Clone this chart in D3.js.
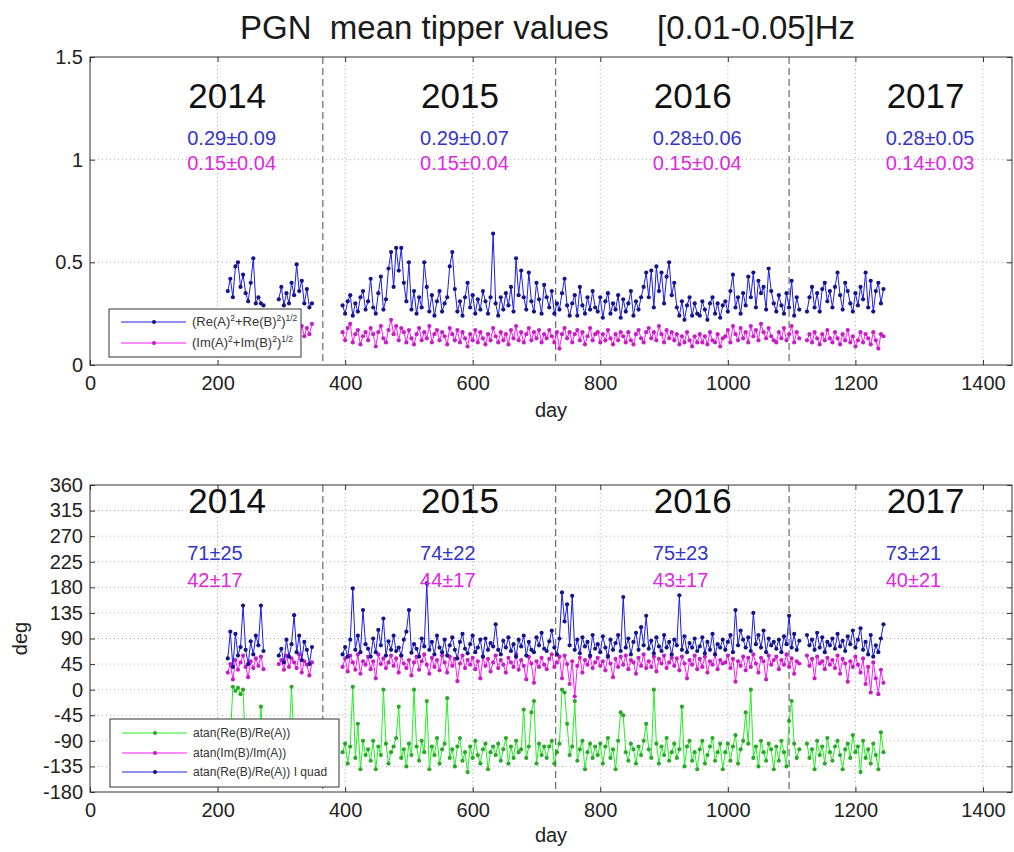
<!DOCTYPE html>
<html><head><meta charset="utf-8">
<script src="https://cdn.jsdelivr.net/npm/d3@7"></script>
<style>
body{margin:0;background:#fff}
svg text{font-family:"Liberation Sans",Arial,Helvetica,sans-serif;white-space:pre}
</style>
</head><body>
<svg id="c" width="1014" height="852"></svg>
<script>
// ---------- DATA ----------
const days = [
 216,220,224,228,232,236,240,244,248,252,256,260,264,268,272,
 296,300,304,308,312,316,320,324,328,332,336,340,344,348,
 396,400,404,408,412,416,420,424,428,432,
 436,440,444,448,452,456,460,464,468,472,
 476,480,484,488,492,496,500,504,508,512,
 516,520,524,528,532,536,540,544,548,552,
 556,560,564,568,572,576,580,584,588,592,
 596,600,604,608,612,616,620,624,628,632,
 636,640,644,648,652,656,660,664,668,672,
 676,680,684,688,692,696,700,704,708,712,
 716,720,724,728,732,736,740,744,748,752,
 756,760,764,768,772,776,780,784,788,792,
 796,800,804,808,812,816,820,824,828,832,
 836,840,844,848,852,856,860,864,868,872,
 876,880,884,888,892,896,900,904,908,912,
 916,920,924,928,932,936,940,944,948,952,
 956,960,964,968,972,976,980,984,988,992,
 996,1000,1004,1008,1012,1016,1020,1024,1028,1032,
 1036,1040,1044,1048,1052,1056,1060,1064,1068,1072,
 1076,1080,1084,1088,1092,1096,1100,1104,1108,1112,
 1124,1128,1132,1136,1140,1144,1148,1152,1156,1160,
 1164,1168,1172,1176,1180,1184,1188,1192,1196,1200,
 1204,1208,1212,1216,1220,1224,1228,1232,1236,1240,
 1244
];
// top panel: (Re(A)^2+Re(B)^2)^1/2
const tipRe = [
 0.36,0.42,0.33,0.48,0.50,0.38,0.44,0.35,0.31,0.40,0.52,0.30,0.33,0.30,0.29,
 0.32,0.38,0.29,0.35,0.30,0.40,0.34,0.49,0.36,0.41,0.30,0.37,0.28,0.30,
 0.29,0.25,0.31,0.34,0.24,0.30,0.26,0.33,0.36,0.27,
 0.31,0.42,0.28,0.25,0.35,0.43,0.27,0.32,0.47,0.55,
 0.38,0.57,0.46,0.57,0.40,0.31,0.50,0.27,0.36,0.25,
 0.33,0.28,0.50,0.38,0.26,0.34,0.24,0.31,0.36,0.26,
 0.30,0.33,0.48,0.55,0.37,0.26,0.31,0.24,0.33,0.40,
 0.28,0.34,0.25,0.32,0.27,0.36,0.31,0.25,0.33,0.64,
 0.30,0.24,0.33,0.27,0.35,0.29,0.38,0.26,0.52,0.34,
 0.46,0.33,0.27,0.45,0.31,0.26,0.40,0.32,0.25,0.39,
 0.33,0.28,0.36,0.25,0.30,0.27,0.35,0.42,0.29,0.24,
 0.30,0.34,0.24,0.38,0.29,0.25,0.33,0.27,0.36,0.28,
 0.26,0.33,0.23,0.31,0.35,0.25,0.30,0.27,0.34,0.23,
 0.32,0.26,0.30,0.36,0.24,0.31,0.27,0.33,0.38,0.45,
 0.33,0.46,0.28,0.48,0.36,0.45,0.30,0.43,0.50,0.34,
 0.40,0.28,0.24,0.31,0.22,0.29,0.33,0.24,0.30,0.25,
 0.24,0.31,0.27,0.22,0.30,0.33,0.25,0.30,0.23,0.29,
 0.31,0.26,0.36,0.44,0.28,0.33,0.25,0.35,0.29,0.43,
 0.33,0.45,0.28,0.41,0.35,0.38,0.27,0.47,0.36,0.30,
 0.26,0.34,0.29,0.25,0.35,0.28,0.41,0.24,0.33,0.27,
 0.26,0.33,0.38,0.28,0.35,0.26,0.37,0.40,0.31,0.36,
 0.28,0.38,0.45,0.34,0.27,0.40,0.36,0.30,0.26,0.35,
 0.29,0.38,0.32,0.45,0.28,0.41,0.26,0.36,0.40,0.30,
 0.37
];
// top panel: (Im(A)^2+Im(B)^2)^1/2
const tipIm = [
 0.16,0.19,0.14,0.21,0.18,0.15,0.20,0.16,0.13,0.17,0.19,0.14,0.15,0.13,0.14,
 0.15,0.18,0.13,0.17,0.14,0.19,0.16,0.21,0.17,0.19,0.14,0.18,0.15,0.20,
 0.16,0.12,0.18,0.20,0.11,0.15,0.17,0.10,0.14,0.16,
 0.12,0.18,0.15,0.09,0.16,0.19,0.13,0.11,0.17,0.22,
 0.15,0.19,0.12,0.18,0.16,0.11,0.17,0.13,0.10,0.15,
 0.18,0.12,0.16,0.13,0.19,0.11,0.15,0.17,0.12,0.16,
 0.14,0.10,0.18,0.15,0.12,0.17,0.11,0.16,0.13,0.09,
 0.15,0.12,0.17,0.11,0.16,0.13,0.10,0.15,0.12,0.18,
 0.14,0.11,0.16,0.12,0.15,0.10,0.17,0.13,0.19,0.12,
 0.16,0.11,0.15,0.18,0.12,0.16,0.13,0.17,0.11,0.15,
 0.13,0.17,0.14,0.11,0.16,0.08,0.15,0.18,0.13,0.16,
 0.11,0.15,0.17,0.12,0.16,0.10,0.14,0.18,0.12,0.15,
 0.16,0.11,0.15,0.12,0.17,0.13,0.10,0.15,0.12,0.16,
 0.14,0.11,0.16,0.12,0.10,0.15,0.17,0.13,0.11,0.16,
 0.18,0.13,0.16,0.12,0.19,0.15,0.11,0.17,0.13,0.16,
 0.12,0.15,0.10,0.14,0.11,0.16,0.12,0.09,0.14,0.11,
 0.15,0.11,0.14,0.10,0.16,0.12,0.11,0.15,0.09,0.13,
 0.14,0.17,0.11,0.19,0.15,0.12,0.18,0.13,0.16,0.11,
 0.19,0.14,0.17,0.12,0.20,0.16,0.13,0.18,0.14,0.12,
 0.11,0.16,0.13,0.18,0.12,0.15,0.19,0.11,0.16,0.13,
 0.12,0.15,0.11,0.16,0.13,0.10,0.15,0.12,0.17,0.13,
 0.11,0.16,0.13,0.10,0.15,0.12,0.17,0.11,0.14,0.09,
 0.12,0.16,0.11,0.15,0.13,0.10,0.16,0.12,0.08,0.15,
 0.14
];
// bottom panel: atan(Re(B)/Re(A)) (deg)
const angRe = [
 -100,-85,5,-2,3,-8,0,-110,-95,-120,-105,-90,-100,-30,-115,
 -110,-95,-120,-100,-85,5,-105,-130,-90,-115,-100,-125,-95,-110,
 -110,-95,-130,-100,5,-120,-60,-140,-90,-115,
 -105,-125,-90,-140,-100,-115,0,-95,-130,-110,
 -100,-85,-30,-120,-105,-135,-95,-115,0,-100,
 -125,-90,-110,-20,-140,-100,-115,-85,-130,-105,
 -95,-15,-120,-105,-135,-100,-85,-125,-110,-145,
 -100,-120,-90,-115,-130,-105,-95,-140,-110,-100,
 -115,-95,-125,-105,-85,-130,-100,-120,-90,-110,
 -105,-35,-120,-100,-40,-20,-130,-95,-115,-100,
 -120,-100,-90,-130,-110,-95,0,-5,-60,-115,
 -100,-20,-125,-105,-90,-140,-110,-95,-120,-100,
 -115,-95,-130,-100,-85,-120,-105,-140,-90,-40,
 -45,-110,-125,-95,-105,-130,-100,-115,-90,-60,
 -105,-120,0,-95,-130,-100,-115,-85,-125,-110,
 -95,-120,-105,-30,-135,-100,-90,-125,-110,-140,
 -105,-90,-130,-115,-100,-85,-125,-110,-95,-140,
 -110,-95,-125,-100,-80,-130,-105,-90,-40,-95,
 0,-120,-100,-135,-90,-110,-125,-95,-105,-140,
 -100,-125,-90,-110,-135,-55,-20,-95,-120,-105,
 -95,-120,-105,-140,-90,-115,-100,-130,-85,-110,
 -125,-100,-90,-115,-140,-105,-95,-120,-80,-110,
 -100,-145,-90,-120,-105,-130,-95,-115,-140,-75,
 -110
];
// bottom panel: atan(Im(B)/Im(A)) (deg)
const angIm = [
 30,45,18,52,35,48,60,40,22,50,38,55,42,58,36,
 45,52,35,60,40,55,48,38,62,30,50,44,25,48,
 40,55,32,60,48,35,62,28,50,44,
 58,36,50,20,62,45,55,38,48,60,
 42,55,30,60,46,38,52,25,48,58,
 35,50,62,44,28,56,40,52,34,60,
 48,30,58,42,54,15,46,60,38,52,
 44,56,36,50,20,58,42,54,32,48,
 60,38,52,44,30,56,48,40,62,35,
 52,42,18,58,46,12,50,40,56,44,
 36,54,62,40,48,58,20,60,45,10,
 50,-12,42,56,30,52,44,58,38,48,
 56,42,50,34,60,46,22,54,40,58,
 44,60,36,52,48,28,56,42,62,38,
 50,40,58,32,54,46,60,38,48,56,
 42,55,34,58,46,20,52,44,60,36,
 54,40,58,30,50,44,62,36,52,46,
 48,60,38,54,14,50,42,58,34,56,
 40,62,46,30,56,50,18,60,44,52,
 58,36,52,44,62,40,55,28,50,46,
 60,42,54,20,58,46,50,36,56,44,
 52,38,60,28,54,46,14,50,40,58,
 44,30,55,10,40,-5,48,20,-8,35,
 12
];
// bottom panel: atan(Re(B)/Re(A)) I quad (deg)
const angReQ = [
 55,102,40,98,60,75,148,70,45,85,62,95,78,148,68,
 60,72,48,88,58,80,131,66,95,52,84,70,45,75,
 62,75,58,88,178,70,95,66,140,80,
 72,58,90,66,105,78,125,60,85,70,
 95,68,74,60,88,102,140,65,80,72,
 58,90,76,187,70,84,62,95,74,66,
 88,60,78,92,70,55,84,98,72,64,
 80,95,66,74,88,58,90,70,82,76,
 115,70,62,86,74,92,68,80,58,88,
 76,95,60,84,70,66,92,78,100,72,
 68,85,104,74,62,90,171,120,150,78,
 165,70,88,64,92,76,84,60,96,72,
 80,66,94,74,58,88,70,82,96,68,
 163,74,90,62,84,100,70,110,78,130,
 72,86,64,92,76,68,96,74,84,62,
 88,78,166,70,94,66,82,74,90,68,
 76,92,64,84,70,98,62,80,74,88,
 70,84,96,66,140,78,104,88,74,92,
 68,135,80,96,74,104,66,90,78,84,
 72,88,66,94,80,130,74,98,70,86,
 96,78,88,70,100,74,92,66,84,78,
 90,72,98,76,86,68,94,80,104,74,
 88,108,70,84,62,96,58,78,66,90,
 115
];
const years = ["2014","2015","2016","2017"];
const yearLabelDay = [154,519,884,1249];
const yearBoundaryDays = [365,730,1096];
const tipReStats = ["0.29\u00B10.09","0.29\u00B10.07","0.28\u00B10.06","0.28\u00B10.05"];
const tipImStats = ["0.15\u00B10.04","0.15\u00B10.04","0.15\u00B10.04","0.14\u00B10.03"];
const angReQStats = ["71\u00B125","74\u00B122","75\u00B123","73\u00B121"];
const angImStats = ["42\u00B117","44\u00B117","43\u00B117","40\u00B121"];
const xTicks = [0,200,400,600,800,1000,1200,1400];
const yTicksTop = [0,0.5,1,1.5];
const yTicksBot = [-180,-135,-90,-45,0,45,90,135,180,225,270,315,360];

// ---------- DRAW ----------
const svg = d3.select("#c");
const FONT = '"Liberation Sans",Arial,Helvetica,sans-serif';
const X0 = 90, X1 = 1012;
const x = d3.scaleLinear().domain([0,1445.5]).range([X0,X1]);
const BLUE = "#1c1ce6", BLUE_M = "#14148a";
const MAG = "#ff1aff", MAG_M = "#c81cc8";
const GRN = "#22f022", GRN_M = "#2aa82a";
const BLUE_T = "#3434c8", MAG_T = "#e028e0";

// title
svg.append("text").attr("x",240).attr("y",39).attr("font-size",33).attr("fill","#1a1a1a").text("PGN  mean tipper values");
svg.append("text").attr("x",657).attr("y",39).attr("font-size",33).attr("fill","#1a1a1a").text("[0.01-0.05]Hz");

function segmentsOf(vals){
  const segs=[]; let cur=[];
  const n=Math.min(days.length, vals.length);
  for(let i=0;i<n;i++){
    if(cur.length && days[i]-cur[cur.length-1][0] > 6){segs.push(cur);cur=[];}
    cur.push([days[i],vals[i]]);
  }
  if(cur.length) segs.push(cur);
  return segs;
}

function panel(o){
  const g = svg.append("g");
  const y = d3.scaleLinear().domain(o.ydom).range([o.bottom,o.top]);
  const cid = "clip"+o.id;
  svg.append("clipPath").attr("id",cid).append("rect")
    .attr("x",X0).attr("y",o.top).attr("width",X1-X0).attr("height",o.bottom-o.top);
  // grid
  g.append("g").selectAll("line").data(xTicks.filter(d=>d>0)).join("line")
    .attr("x1",d=>x(d)).attr("x2",d=>x(d)).attr("y1",o.top).attr("y2",o.bottom)
    .attr("stroke","#b0b0b0").attr("stroke-width",1).attr("stroke-dasharray","1,3");
  g.append("g").selectAll("line").data(o.yTicks.filter(d=>d!==o.ydom[0]&&d!==o.ydom[1])).join("line")
    .attr("x1",X0).attr("x2",X1).attr("y1",d=>y(d)).attr("y2",d=>y(d))
    .attr("stroke","#b0b0b0").attr("stroke-width",1).attr("stroke-dasharray","1,3");
  // year boundaries
  g.append("g").selectAll("line").data(yearBoundaryDays).join("line")
    .attr("x1",d=>x(d)).attr("x2",d=>x(d)).attr("y1",o.top).attr("y2",o.bottom)
    .attr("stroke","#6a6a6a").attr("stroke-width",1.2).attr("stroke-dasharray","7,4");
  // data
  const dg = g.append("g").attr("clip-path",`url(#${cid})`);
  const line = d3.line().x(d=>x(d[0])).y(d=>y(d[1]));
  o.series.forEach(s=>{
    const segs = segmentsOf(s.vals);
    dg.append("g").selectAll("path").data(segs).join("path")
      .attr("d",line).attr("fill","none").attr("stroke",s.color).attr("stroke-width",1);
    dg.append("g").selectAll("circle").data(segs.flat()).join("circle")
      .attr("cx",d=>x(d[0])).attr("cy",d=>y(d[1])).attr("r",2.1)
      .attr("fill",s.mcolor);
  });
  // year labels & stats
  const tg = g.append("g");
  tg.selectAll(".yr").data(years).join("text").attr("class","yr")
    .attr("x",(d,i)=>x(yearLabelDay[i])).attr("y",o.yearY)
    .attr("font-size",35).attr("fill","#111").text(d=>d);
  tg.selectAll(".s1").data(o.stats1).join("text").attr("class","s1")
    .attr("x",(d,i)=>x(yearLabelDay[i])-1).attr("y",o.stat1Y)
    .attr("font-size",20).attr("fill",BLUE_T).text(d=>d);
  tg.selectAll(".s2").data(o.stats2).join("text").attr("class","s2")
    .attr("x",(d,i)=>x(yearLabelDay[i])-1).attr("y",o.stat2Y)
    .attr("font-size",20).attr("fill",MAG_T).text(d=>d);
  // axes
  const ax = g.append("g");
  ax.append("g").attr("transform",`translate(0,${o.bottom})`)
    .call(d3.axisBottom(x).tickValues(xTicks).tickFormat(d3.format("d")).tickSizeInner(-5).tickSizeOuter(0).tickPadding(11));
  ax.append("g").attr("transform",`translate(0,${o.top})`)
    .call(d3.axisTop(x).tickValues(xTicks).tickFormat("").tickSizeInner(-5).tickSizeOuter(0));
  ax.append("g").attr("transform",`translate(${X0},0)`)
    .call(d3.axisLeft(y).tickValues(o.yTicks).tickFormat(o.yFmt).tickSizeInner(-5).tickSizeOuter(0).tickPadding(7));
  ax.append("g").attr("transform",`translate(${X1},0)`)
    .call(d3.axisRight(y).tickValues(o.yTicks).tickFormat("").tickSizeInner(-5).tickSizeOuter(0));
  ax.selectAll(".domain").remove();
  ax.selectAll(".tick line").attr("stroke","#333");
  ax.selectAll(".tick text").attr("font-size",20).attr("fill","#222").attr("font-family",FONT);
  ax.append("rect").attr("x",X0).attr("y",o.top).attr("width",X1-X0).attr("height",o.bottom-o.top)
    .attr("fill","none").attr("stroke","#333").attr("stroke-width",1);
  // x label
  g.append("text").attr("x",(X0+X1)/2).attr("y",o.xlabY).attr("text-anchor","middle")
    .attr("font-size",20).attr("fill","#222").text("day");
  if(o.ylab){
    g.append("text").attr("transform",`translate(27,${(o.top+o.bottom)/2}) rotate(-90)`)
      .attr("text-anchor","middle").attr("font-size",20).attr("fill","#222").text(o.ylab);
  }
  // legend
  const L = o.legend;
  const lg = g.append("g");
  lg.append("rect").attr("x",L.x).attr("y",L.y).attr("width",L.w).attr("height",L.h)
    .attr("fill","#fff").attr("stroke","#333").attr("stroke-width",1);
  L.rows.forEach(r=>{
    lg.append("line").attr("x1",L.x+12).attr("x2",L.x+77).attr("y1",r.y).attr("y2",r.y)
      .attr("stroke",r.color).attr("stroke-width",1);
    lg.append("circle").attr("cx",L.x+45).attr("cy",r.y).attr("r",2).attr("fill",r.mcolor);
    const t = lg.append("text").attr("x",L.x+83).attr("y",r.y+4).attr("font-size",L.fs).attr("fill","#333");
    r.parts.forEach(p=>{
      const ts = t.append("tspan").text(p.t);
      if(p.sup){ ts.attr("font-size",L.fs*0.65).attr("dy",-5); }
      else if(p.after){ ts.attr("dy",5); }
    });
  });
}

panel({
  id:"top", top:57, bottom:365, ydom:[0,1.5], yTicks:yTicksTop, yFmt:d=>String(d),
  series:[{vals:tipRe,color:BLUE,mcolor:BLUE_M},{vals:tipIm,color:MAG,mcolor:MAG_M}],
  yearY:108, stats1:tipReStats, stat1Y:145, stats2:tipImStats, stat2Y:170,
  xlabY:417, ylab:null,
  legend:{x:109,y:309,w:192,h:48,fs:13,rows:[
    {y:322,color:BLUE,mcolor:BLUE_M,parts:[{t:"(Re(A)"},{t:"2",sup:1},{t:"+Re(B)",after:1},{t:"2",sup:1},{t:")",after:1},{t:"1/2",sup:1}]},
    {y:343,color:MAG,mcolor:MAG_M,parts:[{t:"(Im(A)"},{t:"2",sup:1},{t:"+Im(B)",after:1},{t:"2",sup:1},{t:")",after:1},{t:"1/2",sup:1}]}
  ]}
});

panel({
  id:"bot", top:485, bottom:792, ydom:[-180,360], yTicks:yTicksBot, yFmt:d=>String(d),
  series:[{vals:angRe,color:GRN,mcolor:GRN_M},{vals:angIm,color:MAG,mcolor:MAG_M},{vals:angReQ,color:BLUE,mcolor:BLUE_M}],
  yearY:513, stats1:angReQStats, stat1Y:560, stats2:angImStats, stat2Y:587,
  xlabY:842, ylab:"deg",
  legend:{x:110,y:719,w:229,h:68,fs:12,rows:[
    {y:733,color:GRN,mcolor:GRN_M,parts:[{t:"atan(Re(B)/Re(A))"}]},
    {y:753,color:MAG,mcolor:MAG_M,parts:[{t:"atan(Im(B)/Im(A))"}]},
    {y:772,color:BLUE,mcolor:BLUE_M,parts:[{t:"atan(Re(B)/Re(A)) I quad"}]}
  ]}
});
</script>
</body></html>
